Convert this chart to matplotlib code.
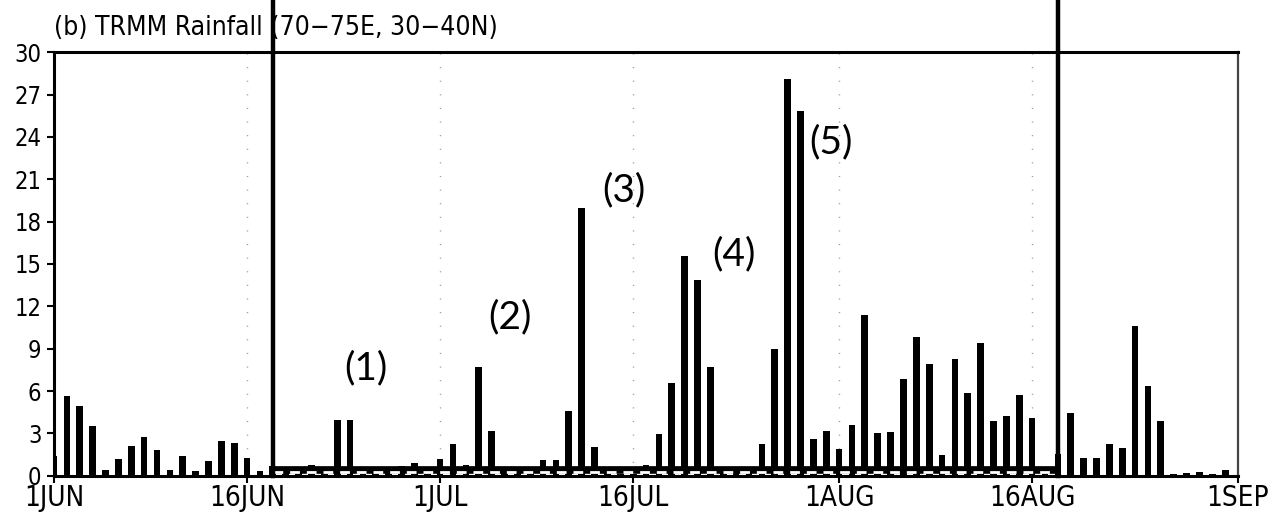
import matplotlib
matplotlib.use('Agg')
import matplotlib.pyplot as plt
import numpy as np
from matplotlib import font_manager

# daily TRMM rainfall, 1 Jun - 31 Aug (mm/day)
rain = [1.4, 5.66, 4.95, 3.51, 0.4, 1.18, 2.1, 2.74, 1.82, 0.4,
        1.39, 0.33, 1.04, 2.45, 2.33, 1.25, 0.35, 0.7, 0.5, 0.4,
        0.75, 0.5, 3.94, 3.94, 0.5, 0.4, 0.5, 0.7, 0.9, 0.5,
        1.18, 2.24, 0.75, 7.68, 3.16, 0.5, 0.4, 0.2, 1.1, 1.1,
        4.58, 19.0, 2.03, 0.4, 0.15, 0.15, 0.75, 2.95, 6.59, 15.57,
        13.87, 7.68, 0.2, 0.4, 0.4, 2.24, 8.98, 28.1, 25.84, 2.6,
        3.16, 1.89, 3.58, 11.39, 3.0, 3.07, 6.85, 9.83, 7.92, 1.46,
        8.27, 5.85, 9.4, 3.87, 4.25, 5.71, 4.06, 0.5, 1.53, 4.43,
        1.25, 1.25, 2.26, 1.96, 10.6, 6.34, 3.87, 0.1, 0.17, 0.26,
        0.12, 0.4]

# x positions are days since 1 Jun
tick_days = [0, 15, 30, 45, 61, 76, 92]
tick_labels = ['1JUN', '16JUN', '1JUL', '16JUL', '1AUG', '16AUG', '1SEP']
y_ticks = [0, 3, 6, 9, 12, 15, 18, 21, 24, 27, 30]

# period box 18 Jun - 18 Aug
period_days = [17, 78]
period_level = 0.52
dash_level = 0.23

event_labels = ['(1)', '(2)', '(3)', '(4)', '(5)']
event_x = [24.2, 35.4, 44.3, 52.8, 60.4]
event_y = [7.6, 11.2, 20.2, 15.7, 23.6]

# narrow font for the GrADS look, whatever is on the box
have = {(f.name, f.stretch) for f in font_manager.fontManager.ttflist}
if any(n == 'Liberation Sans Narrow' for n, s in have):
    gfont = dict(family='Liberation Sans Narrow')
elif ('DejaVu Sans', 'condensed') in have or ('DejaVu Sans', 'semi-condensed') in have:
    gfont = dict(family='DejaVu Sans', stretch='condensed')
else:
    gfont = dict(family='Roboto')

fig = plt.figure(figsize=(12.72, 5.12), dpi=100)
ax = fig.add_axes([0.0425, 0.0709, 0.9308, 0.827])

days = np.arange(len(rain))
ax.bar(days, rain, width=0.52, color='black', zorder=3)

# dotted date gridlines
for d in tick_days[1:-1]:
    ax.axvline(d, color='#999999', lw=1.0, ls=(0, (0.8, 9)), zorder=1)

# period box: thick level line + dashed band + tall verticals
ax.plot(period_days, [period_level, period_level], color='black', lw=3.4,
        solid_capstyle='butt', zorder=4)
ax.plot(period_days, [dash_level, dash_level], color='black', lw=2.6,
        solid_capstyle='butt', zorder=4)
ax.plot(period_days, [dash_level, dash_level], color='white', lw=2.0,
        ls=(0, (3.5, 2.5)), zorder=5)
for d in period_days:
    ax.plot([d, d], [0, 36], color='black', lw=3.2, clip_on=False, zorder=6)

for s, xx, yy in zip(event_labels, event_x, event_y):
    ax.text(xx, yy, s, fontsize=28, family=['Lato', 'DejaVu Sans'],
            ha='center', va='center', zorder=7)

ax.set_xlim(0, 92)
ax.set_ylim(0, 30)
ax.set_xticks(tick_days)
ax.set_xticklabels(tick_labels, fontsize=20, **gfont)
ax.set_yticks(y_ticks)
ax.set_yticklabels([str(v) for v in y_ticks], fontsize=17, **gfont)
ax.tick_params(axis='both', direction='out', length=5, width=1.5)
ax.tick_params(axis='x', pad=1)
ax.tick_params(axis='y', pad=4)

for side in ['left', 'top', 'bottom']:
    ax.spines[side].set_linewidth(2.2)
ax.spines['right'].set_linewidth(1.6)
ax.spines['right'].set_color('#444444')

fig.text(54 / 1272, 1 - 35 / 512, '(b) TRMM Rainfall (70\u221275E, 30\u221240N)',
         fontsize=19, ha='left', va='baseline', **gfont)

fig.savefig('out.png', dpi=100)
